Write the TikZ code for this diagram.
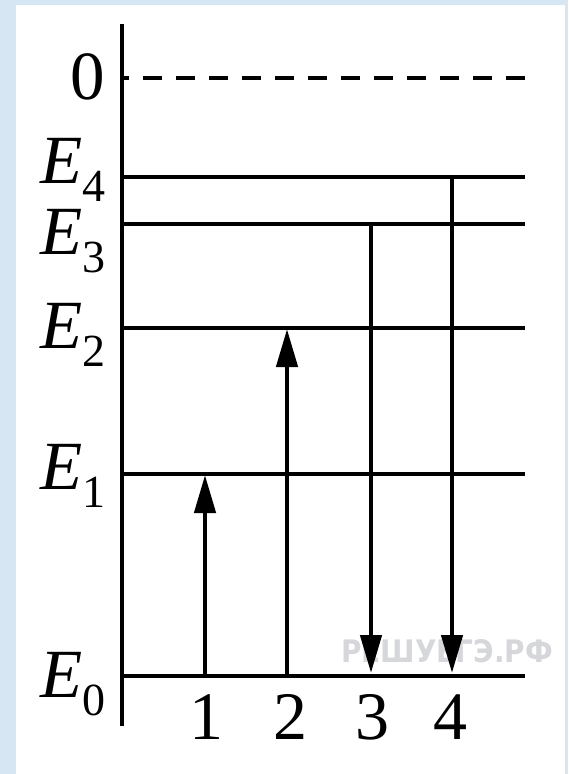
\documentclass[tikz,border=0pt]{standalone}
\usepackage{fontspec}
\setmainfont{Liberation Serif}
\newfontfamily\wmfont{DejaVu Sans Condensed}
\usetikzlibrary{arrows.meta}
\definecolor{framebg}{RGB}{214,230,242}
\definecolor{wmgray}{RGB}{214,215,219}
\tikzset{
  level/.style={line width=4pt},
  trans/.style={line width=4.5pt,-{Triangle[length=38pt,width=21pt]}},
  elabel/.style={anchor=base west,inner sep=0pt,font=\fontsize{69}{69}\selectfont},
  num/.style={anchor=base,inner sep=0pt,font=\fontsize{68}{68}\selectfont},
}
\newcommand{\Elev}[1]{\textit{E}\raisebox{-18pt}{\fontsize{46}{46}\selectfont #1}}
\begin{document}
\begin{tikzpicture}[x=1pt,y=-1pt]
\useasboundingbox (0,0) rectangle (568,774);
\fill[framebg] (0,0) rectangle (568,774);
\fill[white] (16,5) rectangle (565,774);
% axis
\coordinate (axtop) at (122,24);
\coordinate (axbot) at (122,726);
\draw[line width=4pt] (axtop) -- (axbot);
% level ends
\coordinate (z0) at (122,78);  \coordinate (z1) at (525,78);
\coordinate (a4) at (122,177); \coordinate (b4) at (525,177);
\coordinate (a3) at (122,224); \coordinate (b3) at (525,224);
\coordinate (a2) at (122,328); \coordinate (b2) at (525,328);
\coordinate (a1) at (122,474); \coordinate (b1) at (525,474);
\coordinate (a0) at (122,676); \coordinate (b0) at (525,676);
\draw[level,dash pattern=on 19pt off 14pt] (z1) -- (z0);
\draw[level] (a4) -- (b4);
\draw[level] (a3) -- (b3);
\draw[level] (a2) -- (b2);
\draw[level] (a1) -- (b1);
\draw[level] (a0) -- (b0);
% labels
\node[anchor=base,inner sep=0pt,font=\fontsize{69}{69}\selectfont] (l0) at (88,99) {0};
\node[elabel] (e4) at (40,183) {\Elev{4}};
\node[elabel] (e3) at (40,254) {\Elev{3}};
\node[elabel] (e2) at (40,348) {\Elev{2}};
\node[elabel] (e1) at (40,489) {\Elev{1}};
\node[elabel] (e0) at (40,697) {\Elev{0}};
% watermark
\node[inner sep=0pt,text=wmgray,font=\wmfont\bfseries\fontsize{31}{31}\selectfont] (wm) at (447,651) {РЕШУЕГЭ.РФ};
% transitions
\coordinate (s1) at (205,676); \coordinate (t1) at (205,475);
\coordinate (s2) at (287,676); \coordinate (t2) at (287,329);
\coordinate (s3) at (371,224); \coordinate (t3) at (371,673);
\coordinate (s4) at (452,177); \coordinate (t4) at (452,673);
\draw[trans] (s1) -- (t1);
\draw[trans] (s2) -- (t2);
\draw[trans] (s3) -- (t3);
\draw[trans] (s4) -- (t4);
% numbers
\node[num] (n1) at (206,739) {1};
\node[num] (n2) at (290,739) {2};
\node[num] (n3) at (372,739) {3};
\node[num] (n4) at (450,739) {4};
\end{tikzpicture}
\end{document}
